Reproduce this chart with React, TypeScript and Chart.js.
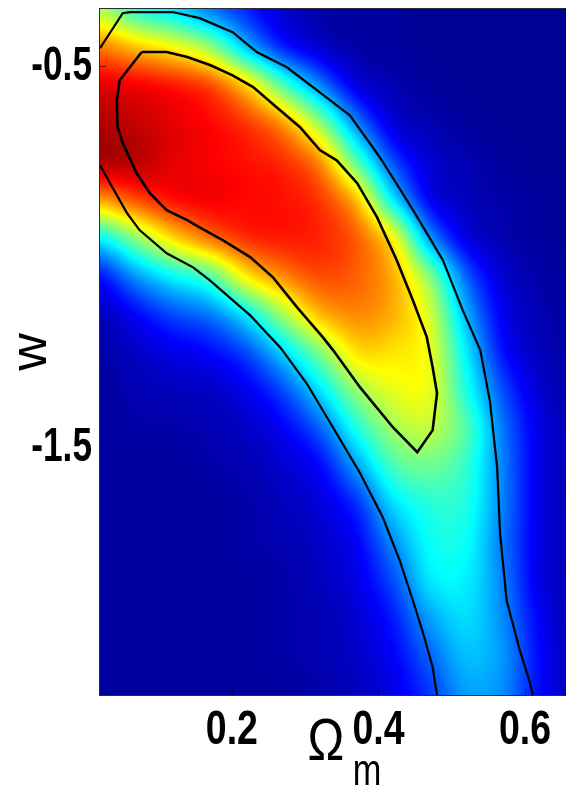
import { useEffect, useRef } from 'react';
import { Chart, registerables } from 'chart.js';

Chart.register(...registerables);

// Axis extents and tick labels
const omegaRange = [0.02, 0.656];
const wRange = [-2.15, -0.35];
const xTickValues = [0.2, 0.4, 0.6];
const yTickValues = [-0.5, -1.5];

// Density grid nodes
const omegaNodes = [0.02, 0.07, 0.12, 0.17, 0.22, 0.27, 0.32, 0.37, 0.42, 0.47, 0.52, 0.57, 0.62, 0.67];
const wNodes = [-0.35, -0.45, -0.55, -0.65, -0.75, -0.85, -0.95, -1.05, -1.15, -1.25, -1.35, -1.45, -1.55, -1.65, -1.75, -1.85, -1.95, -2.05, -2.15];

// Normalised density, one column per omega node, values ordered along wNodes
const densityColumns = [
  [0.55, 0.75, 0.9, 0.95, 0.95, 0.72, 0.38, 0.15, 0.06, 0.04, 0.03, 0.03, 0.03, 0.03, 0.03, 0.03, 0.03, 0.03, 0.03],
  [0.42, 0.68, 0.88, 0.93, 0.94, 0.8, 0.52, 0.28, 0.13, 0.07, 0.05, 0.04, 0.03, 0.03, 0.03, 0.03, 0.03, 0.03, 0.03],
  [0.35, 0.62, 0.85, 0.9, 0.9, 0.86, 0.66, 0.38, 0.2, 0.1, 0.06, 0.04, 0.03, 0.03, 0.03, 0.03, 0.03, 0.03, 0.03],
  [0.25, 0.52, 0.8, 0.87, 0.88, 0.88, 0.76, 0.46, 0.25, 0.13, 0.07, 0.05, 0.04, 0.03, 0.03, 0.03, 0.03, 0.03, 0.03],
  [0.16, 0.32, 0.66, 0.82, 0.86, 0.87, 0.83, 0.64, 0.37, 0.2, 0.11, 0.07, 0.05, 0.04, 0.04, 0.03, 0.03, 0.03, 0.03],
  [0.08, 0.16, 0.45, 0.72, 0.83, 0.86, 0.85, 0.74, 0.54, 0.34, 0.2, 0.12, 0.08, 0.06, 0.05, 0.04, 0.04, 0.04, 0.03],
  [0.04, 0.08, 0.26, 0.52, 0.73, 0.82, 0.84, 0.8, 0.69, 0.5, 0.35, 0.22, 0.13, 0.09, 0.07, 0.06, 0.05, 0.05, 0.04],
  [0.03, 0.04, 0.1, 0.26, 0.46, 0.68, 0.78, 0.78, 0.74, 0.65, 0.52, 0.4, 0.28, 0.17, 0.12, 0.1, 0.08, 0.07, 0.06],
  [0.03, 0.03, 0.05, 0.09, 0.2, 0.36, 0.62, 0.7, 0.7, 0.65, 0.6, 0.53, 0.44, 0.34, 0.26, 0.2, 0.15, 0.12, 0.1],
  [0.02, 0.02, 0.03, 0.05, 0.08, 0.12, 0.28, 0.5, 0.58, 0.6, 0.6, 0.56, 0.48, 0.41, 0.38, 0.35, 0.28, 0.22, 0.18],
  [0.02, 0.02, 0.02, 0.03, 0.05, 0.06, 0.1, 0.22, 0.3, 0.36, 0.4, 0.45, 0.42, 0.4, 0.38, 0.36, 0.34, 0.31, 0.28],
  [0.02, 0.02, 0.02, 0.02, 0.03, 0.04, 0.05, 0.08, 0.11, 0.14, 0.2, 0.24, 0.25, 0.25, 0.24, 0.25, 0.26, 0.27, 0.26],
  [0.02, 0.02, 0.02, 0.02, 0.02, 0.03, 0.03, 0.04, 0.05, 0.06, 0.08, 0.1, 0.1, 0.1, 0.1, 0.1, 0.12, 0.13, 0.13],
  [0.02, 0.02, 0.02, 0.02, 0.02, 0.02, 0.02, 0.03, 0.03, 0.04, 0.04, 0.05, 0.05, 0.05, 0.05, 0.05, 0.05, 0.05, 0.05],
];

// Outer (2 sigma) contour: upper/right branch
const outerUpper = [
  { x: 0.02, y: -0.453 }, { x: 0.051, y: -0.361 }, { x: 0.061, y: -0.358 }, { x: 0.119, y: -0.358 },
  { x: 0.156, y: -0.374 }, { x: 0.201, y: -0.411 }, { x: 0.234, y: -0.463 }, { x: 0.275, y: -0.503 },
  { x: 0.316, y: -0.563 }, { x: 0.361, y: -0.629 }, { x: 0.402, y: -0.739 }, { x: 0.439, y: -0.852 },
  { x: 0.453, y: -0.896 }, { x: 0.488, y: -1.009 }, { x: 0.515, y: -1.14 }, { x: 0.539, y: -1.245 },
  { x: 0.552, y: -1.377 }, { x: 0.562, y: -1.552 }, { x: 0.566, y: -1.726 }, { x: 0.575, y: -1.902 },
  { x: 0.593, y: -2.033 }, { x: 0.607, y: -2.119 }, { x: 0.611, y: -2.151 },
];

// Outer (2 sigma) contour: lower/left branch
const outerLower = [
  { x: 0.02, y: -0.76 }, { x: 0.057, y: -0.886 }, { x: 0.074, y: -0.93 }, { x: 0.111, y: -0.991 },
  { x: 0.147, y: -1.028 }, { x: 0.17, y: -1.062 }, { x: 0.201, y: -1.114 }, { x: 0.225, y: -1.154 },
  { x: 0.266, y: -1.238 }, { x: 0.302, y: -1.332 }, { x: 0.338, y: -1.448 }, { x: 0.375, y: -1.568 },
  { x: 0.406, y: -1.684 }, { x: 0.429, y: -1.797 }, { x: 0.447, y: -1.902 }, { x: 0.461, y: -1.988 },
  { x: 0.474, y: -2.077 }, { x: 0.48, y: -2.151 },
];

// Inner (1 sigma) contour, closed loop
const innerContour = [
  { x: 0.077, y: -0.463 }, { x: 0.111, y: -0.463 }, { x: 0.139, y: -0.476 }, { x: 0.17, y: -0.497 },
  { x: 0.201, y: -0.524 }, { x: 0.229, y: -0.555 }, { x: 0.261, y: -0.608 }, { x: 0.293, y: -0.66 },
  { x: 0.32, y: -0.72 }, { x: 0.343, y: -0.747 }, { x: 0.371, y: -0.807 }, { x: 0.398, y: -0.896 },
  { x: 0.425, y: -1.009 }, { x: 0.447, y: -1.114 }, { x: 0.466, y: -1.211 }, { x: 0.474, y: -1.29 },
  { x: 0.48, y: -1.358 }, { x: 0.474, y: -1.455 }, { x: 0.453, y: -1.513 }, { x: 0.42, y: -1.448 },
  { x: 0.375, y: -1.343 }, { x: 0.338, y: -1.245 }, { x: 0.324, y: -1.211 }, { x: 0.289, y: -1.133 },
  { x: 0.256, y: -1.054 }, { x: 0.225, y: -1.001 }, { x: 0.188, y: -0.957 }, { x: 0.156, y: -0.923 },
  { x: 0.139, y: -0.904 }, { x: 0.111, y: -0.878 }, { x: 0.088, y: -0.833 }, { x: 0.07, y: -0.781 },
  { x: 0.051, y: -0.702 }, { x: 0.044, y: -0.66 }, { x: 0.043, y: -0.589 }, { x: 0.047, y: -0.537 },
];

const SANS = "'Liberation Sans', Arial, sans-serif";

function clamp01(v: number) {
  return v < 0 ? 0 : v > 1 ? 1 : v;
}

function jet(v: number): [number, number, number] {
  const r = clamp01(1.5 - Math.abs(4 * v - 3));
  const g = clamp01(1.5 - Math.abs(4 * v - 2));
  const b = clamp01(1.5 - Math.abs(4 * v - 1));
  return [Math.round(r * 255), Math.round(g * 255), Math.round(b * 255)];
}

function catmull(t: number) {
  const t2 = t * t;
  const t3 = t2 * t;
  return [(-t3 + 2 * t2 - t) / 2, (3 * t3 - 5 * t2 + 2) / 2, (-3 * t3 + 4 * t2 + t) / 2, (t3 - t2) / 2];
}

function fracIndex(nodes: number[], v: number) {
  const n = nodes.length;
  const asc = nodes[n - 1] > nodes[0];
  for (let i = 0; i < n - 1; i++) {
    const a = nodes[i];
    const b = nodes[i + 1];
    const inside = asc ? v >= a && v <= b : v <= a && v >= b;
    if (inside) return i + (v - a) / (b - a);
  }
  if (asc) return v < nodes[0] ? 0 : n - 1;
  return v > nodes[0] ? 0 : n - 1;
}

const heatmapPlugin = {
  id: 'densityHeatmap',
  beforeDatasetsDraw(chart: any) {
    const { ctx, chartArea, scales } = chart;
    const xs = scales.x;
    const ys = scales.y;
    const left = Math.round(chartArea.left);
    const top = Math.round(chartArea.top);
    const w = Math.round(chartArea.right) - left;
    const h = Math.round(chartArea.bottom) - top;
    const nx = omegaNodes.length;
    const ny = wNodes.length;
    const colIdx: number[] = [];
    const colW: number[][] = [];
    for (let px = 0; px < w; px++) {
      const f = fracIndex(omegaNodes, xs.getValueForPixel(left + px + 0.5));
      const i = Math.min(Math.floor(f), nx - 2);
      colIdx.push(i);
      colW.push(catmull(f - i));
    }
    const rowIdx: number[] = [];
    const rowW: number[][] = [];
    for (let py = 0; py < h; py++) {
      const f = fracIndex(wNodes, ys.getValueForPixel(top + py + 0.5));
      const j = Math.min(Math.floor(f), ny - 2);
      rowIdx.push(j);
      rowW.push(catmull(f - j));
    }
    const off = document.createElement('canvas');
    off.width = w;
    off.height = h;
    const octx = off.getContext('2d')!;
    const img = octx.createImageData(w, h);
    const d = img.data;
    const val = (i: number, j: number) => {
      const ii = i < 0 ? 0 : i >= nx ? nx - 1 : i;
      const jj = j < 0 ? 0 : j >= ny ? ny - 1 : j;
      return densityColumns[ii][jj];
    };
    for (let py = 0; py < h; py++) {
      const j = rowIdx[py];
      const wy = rowW[py];
      for (let px = 0; px < w; px++) {
        const i = colIdx[px];
        const wx = colW[px];
        let s = 0;
        for (let b = 0; b < 4; b++) {
          let rs = 0;
          for (let a = 0; a < 4; a++) rs += wx[a] * val(i - 1 + a, j - 1 + b);
          s += wy[b] * rs;
        }
        const [r, g, bl] = jet(clamp01(s));
        const k = (py * w + px) * 4;
        d[k] = r;
        d[k + 1] = g;
        d[k + 2] = bl;
        d[k + 3] = 255;
      }
    }
    octx.putImageData(img, 0, 0);
    ctx.save();
    ctx.drawImage(off, left, top);
    ctx.restore();
  },
};

function drawScaledText(ctx: any, text: string, x: number, y: number, sx: number, font: string, align: string, baseline: string) {
  ctx.save();
  ctx.translate(x, y);
  ctx.scale(sx, 1);
  ctx.font = font;
  ctx.textAlign = align;
  ctx.textBaseline = baseline;
  ctx.fillStyle = '#000';
  ctx.fillText(text, 0, 0);
  ctx.restore();
}

const framePlugin = {
  id: 'frameAndLabels',
  afterDraw(chart: any) {
    const { ctx, chartArea, scales } = chart;
    const { left, top, right, bottom } = chartArea;
    ctx.save();
    // inward tick marks
    ctx.strokeStyle = 'rgba(0,0,40,0.55)';
    ctx.lineWidth = 1;
    ctx.beginPath();
    scales.x.ticks.forEach((t: any) => {
      const p = Math.round(scales.x.getPixelForValue(t.value)) + 0.5;
      ctx.moveTo(p, bottom);
      ctx.lineTo(p, bottom - 6);
    });
    scales.y.ticks.forEach((t: any) => {
      const p = Math.round(scales.y.getPixelForValue(t.value)) + 0.5;
      ctx.moveTo(left, p);
      ctx.lineTo(left + 6, p);
    });
    ctx.stroke();
    // frame
    ctx.strokeStyle = '#2a2a3a';
    ctx.lineWidth = 1;
    ctx.strokeRect(left - 0.5, top - 0.5, right - left + 1, bottom - top + 1);
    ctx.restore();

    // tick labels (condensed bold, like the original)
    scales.x.ticks.forEach((t: any) => {
      const p = scales.x.getPixelForValue(t.value);
      drawScaledText(ctx, String(t.value), p, bottom + 36, 0.78, `bold 48px ${SANS}`, 'center', 'middle');
    });
    scales.y.ticks.forEach((t: any) => {
      const p = scales.y.getPixelForValue(t.value);
      drawScaledText(ctx, String(t.value), left - 8, p, 0.72, `bold 49px ${SANS}`, 'right', 'middle');
    });

    // x-axis title: Omega with subscript m
    const cx = (left + right) / 2 - 7;
    drawScaledText(ctx, 'Ω', cx, bottom + 65, 0.82, `60px ${SANS}`, 'center', 'alphabetic');
    drawScaledText(ctx, 'm', cx + 41, bottom + 90, 0.78, `44px ${SANS}`, 'center', 'alphabetic');
  },
};

export default function App() {
  const canvasRef = useRef<HTMLCanvasElement | null>(null);

  useEffect(() => {
    const canvas = canvasRef.current;
    if (!canvas) return;
    const contourStyle = {
      showLine: true,
      pointRadius: 0,
      borderColor: '#000000',
      backgroundColor: '#000000',
      fill: false,
      tension: 0,
    };
    const chart = new Chart(canvas, {
      type: 'scatter',
      data: {
        datasets: [
          { ...contourStyle, label: '2σ upper', data: outerUpper, borderWidth: 2.2 },
          { ...contourStyle, label: '2σ lower', data: outerLower, borderWidth: 2.2 },
          { ...contourStyle, label: '1σ', data: [...innerContour, innerContour[0]], borderWidth: 2.6 },
        ],
      },
      options: {
        animation: false,
        responsive: false,
        events: [],
        layout: { padding: { top: 9, left: 0, right: 0, bottom: 0 } },
        plugins: {
          legend: { display: false },
          tooltip: { enabled: false },
        },
        scales: {
          x: {
            type: 'linear',
            min: omegaRange[0],
            max: omegaRange[1],
            grid: { display: false, drawTicks: false },
            border: { display: false },
            afterBuildTicks: (scale: any) => {
              scale.ticks = xTickValues.map((v) => ({ value: v }));
            },
            afterFit: (scale: any) => {
              scale.height = 92;
              scale.paddingLeft = 0;
              scale.paddingRight = 0;
            },
            ticks: { display: false, autoSkip: false },
          },
          y: {
            type: 'linear',
            min: wRange[0],
            max: wRange[1],
            grid: { display: false, drawTicks: false },
            border: { display: false },
            afterBuildTicks: (scale: any) => {
              scale.ticks = yTickValues.map((v) => ({ value: v }));
            },
            afterFit: (scale: any) => {
              scale.width = 100;
              scale.paddingTop = 0;
              scale.paddingBottom = 0;
            },
            title: {
              display: true,
              text: 'w',
              color: '#000',
              padding: { top: 0, bottom: 0 },
              font: { family: SANS, size: 52, weight: 'normal' },
            },
            ticks: { display: false, autoSkip: false },
          },
        },
      },
      plugins: [heatmapPlugin, framePlugin],
    } as any);
    return () => chart.destroy();
  }, []);

  return (
    <div style={{ position: 'absolute', left: 0, top: 0, width: 566, height: 787, background: '#fff' }}>
      <canvas ref={canvasRef} width={566} height={787} style={{ display: 'block' }} />
    </div>
  );
}
